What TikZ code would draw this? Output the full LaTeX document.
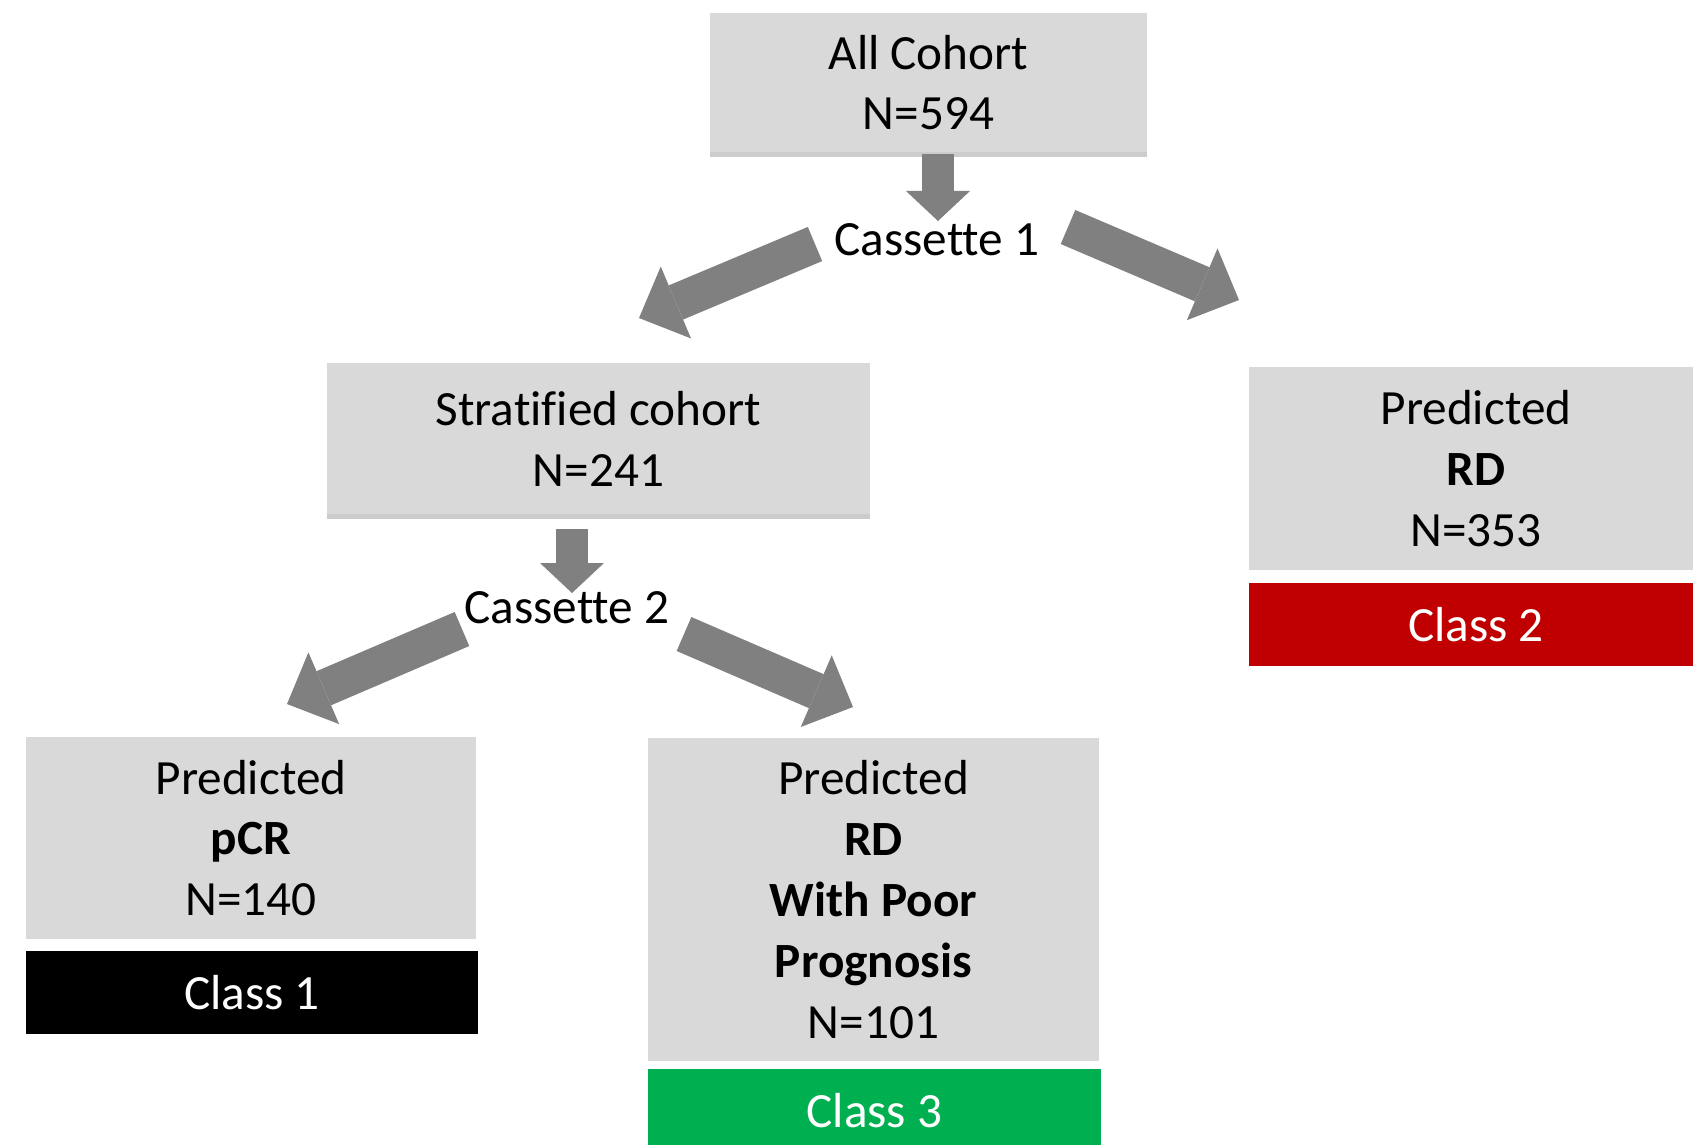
\documentclass[tikz,border=0pt]{standalone}
\usepackage{fontspec}
\setmainfont[Ligatures={NoCommon}]{Carlito}
\usetikzlibrary{arrows.meta,shadows}
\definecolor{boxgray}{HTML}{D9D9D9}
\definecolor{arrowgray}{HTML}{808080}
\definecolor{classred}{HTML}{C00000}
\definecolor{classgreen}{HTML}{00B050}

\begin{document}
\begin{tikzpicture}[
  x=0.01cm, y=-0.01cm,
  every node/.style={font=\fontsize{14pt}{17.3pt}\selectfont, align=center},
  graybox/.style={rectangle, fill=boxgray, inner sep=0pt, minimum width=4.51cm},
  shadowed/.style={drop shadow={shadow xshift=0pt, shadow yshift=-0.05cm, fill=black, opacity=0.2}},
  classbox/.style={rectangle, inner sep=0pt, text=white, minimum width=4.53cm, minimum height=0.83cm},
  fatarrow/.style={draw=arrowgray, line width=0.37cm, -{Triangle[length=0.4cm, width=0.78cm, line width=0pt]}},
  downarrow/.style={draw=arrowgray, line width=0.32cm, -{Triangle[length=0.3cm, width=0.64cm, line width=0pt]}}
]
  \useasboundingbox (0,0) rectangle (1693,1144);

  \node[graybox, shadowed, minimum width=4.37cm, minimum height=1.39cm] (all) at (928.5,82.5) {All Cohort\\N=594};
  \node[graybox, shadowed, minimum width=5.43cm, minimum height=1.51cm] (strat) at (598.5,438.5) {Stratified cohort\\N=241};
  \node[graybox, minimum width=4.54cm, minimum height=2.03cm] (rd) at (1476,468.5) {Predicted\\\textbf{RD}\\N=353};
  \node[classbox, fill=classred, minimum width=4.54cm] (class2) at (1476,624.5) {Class 2};
  \node[graybox, minimum width=4.50cm, minimum height=2.02cm] (pcr) at (251,838) {Predicted\\\textbf{pCR}\\N=140};
  \node[classbox, fill=black, minimum width=4.52cm] (class1) at (252,992.5) {Class 1};
  \node[graybox, minimum height=3.23cm] (poor) at (873.5,899.5) {Predicted\\\textbf{RD}\\\textbf{With Poor}\\\textbf{Prognosis}\\N=101};
  \node[classbox, fill=classgreen] (class3) at (874.5,1110.5) {Class 3};

  \node (cas1) at (937,240) {Cassette 1};
  \node (cas2) at (567,608) {Cassette 2};

  % arrow ends
  \coordinate (d1s) at (938,154);
  \coordinate (d1e) at (938,221);
  \coordinate (d2s) at (572,529);
  \coordinate (d2e) at (572,593);
  \coordinate (l1s) at (815,244);
  \coordinate (l1e) at (639,318);
  \coordinate (r1s) at (1068,227);
  \coordinate (r1e) at (1239,300);
  \coordinate (l2s) at (462,629);
  \coordinate (l2e) at (287,704);
  \coordinate (r2s) at (684,634);
  \coordinate (r2e) at (853,707);

  \draw[downarrow] (d1s) -- (d1e);
  \draw[downarrow] (d2s) -- (d2e);
  \draw[fatarrow] (l1s) -- (l1e);
  \draw[fatarrow] (r1s) -- (r1e);
  \draw[fatarrow] (l2s) -- (l2e);
  \draw[fatarrow] (r2s) -- (r2e);

\end{tikzpicture}
\end{document}
